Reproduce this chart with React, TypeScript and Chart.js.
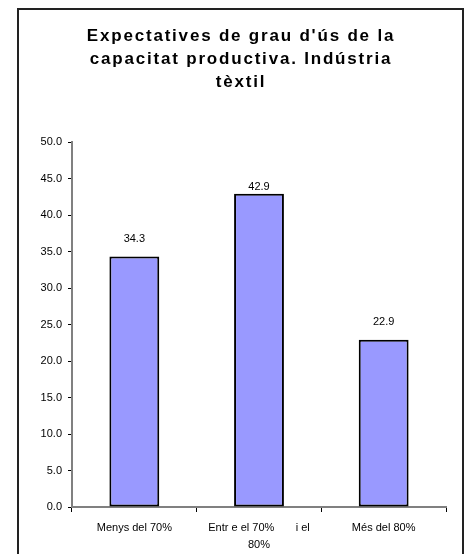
import React, { useEffect, useRef } from "react";
import { Chart, registerables } from "chart.js";

Chart.register(...registerables);

const titleLines = ["Expectatives de grau d'ús de la", "capacitat productiva. Indústria", "tèxtil"];
const categories: (string | string[])[] = ["Menys del 70%", ["Entr e el 70%       i el", "80%"], "Més del 80%"];
const values = [34.3, 42.9, 22.9];
const yMin = 0;
const yMax = 50;
const yStep = 5;

const FONT = '"Liberation Sans", Arial, sans-serif';

const framePlugin = {
  id: "frame",
  afterDraw(chart: any) {
    const ctx = chart.ctx;
    ctx.save();
    ctx.strokeStyle = "#222";
    ctx.lineWidth = 2;
    ctx.strokeRect(18, 9, 445, 600);
    ctx.restore();
  },
};

const titlePlugin = {
  id: "customTitle",
  afterDraw(chart: any) {
    const ctx = chart.ctx;
    ctx.save();
    ctx.font = `bold 17px ${FONT}`;
    (ctx as any).letterSpacing = "1.8px";
    ctx.fillStyle = "#000";
    ctx.textAlign = "center";
    ctx.textBaseline = "alphabetic";
    const cx = 241;
    titleLines.forEach((line, i) => {
      ctx.fillText(line, cx, 41 + i * 23);
    });
    ctx.restore();
  },
};

const labelPlugin = {
  id: "valueLabels",
  afterDatasetsDraw(chart: any) {
    const ctx = chart.ctx;
    const meta = chart.getDatasetMeta(0);
    const top = chart.chartArea.top;
    ctx.save();
    ctx.font = `11px ${FONT}`;
    ctx.fillStyle = "#000";
    ctx.textAlign = "center";
    ctx.textBaseline = "middle";
    meta.data.forEach((bar: any, i: number) => {
      const y = Math.max(bar.y - 18, top + 45);
      ctx.fillText(values[i].toFixed(1), bar.x, y);
    });
    ctx.restore();
  },
};

export default function App() {
  const ref = useRef<HTMLCanvasElement | null>(null);
  useEffect(() => {
    if (!ref.current) return;
    const chart = new Chart(ref.current, {
      type: "bar",
      data: {
        labels: categories,
        datasets: [
          {
            data: values,
            backgroundColor: "#9999FF",
            borderColor: "#000",
            borderWidth: 2,
            borderSkipped: false,
            barPercentage: 0.4,
            categoryPercentage: 1,
          },
        ],
      },
      options: {
        responsive: false,
        animation: false,
        layout: { padding: { left: 0, right: 24, top: 142, bottom: 0 } },
        plugins: {
          legend: { display: false },
          title: { display: false },
          tooltip: { enabled: false },
        },
        scales: {
          x: {
            afterFit(scale: any) {
              scale.height = 47;
            },
            grid: {
              offset: true,
              drawOnChartArea: false,
              drawTicks: true,
              tickLength: 5,
              color: "#000",
            },
            border: { color: "#808080", width: 2 },
            ticks: {
              color: "#000",
              font: { family: FONT, size: 11, lineHeight: 1.55 },
              padding: 7,
              maxRotation: 0,
              autoSkip: false,
            },
          },
          y: {
            min: yMin,
            max: yMax,
            afterFit(scale: any) {
              scale.width = 72;
            },
            grid: {
              drawOnChartArea: false,
              drawTicks: true,
              tickLength: 4,
              color: "#000",
            },
            border: { color: "#808080", width: 2 },
            ticks: {
              stepSize: yStep,
              color: "#000",
              font: { family: FONT, size: 11 },
              padding: 6,
              callback: (v: any) => Number(v).toFixed(1),
            },
          },
        },
      },
      plugins: [framePlugin, titlePlugin, labelPlugin],
    });
    return () => chart.destroy();
  }, []);
  return (
    <div style={{ position: "absolute", left: 0, top: 0, width: 470, height: 554, background: "#fff" }}>
      <canvas ref={ref} width={470} height={554} />
    </div>
  );
}
